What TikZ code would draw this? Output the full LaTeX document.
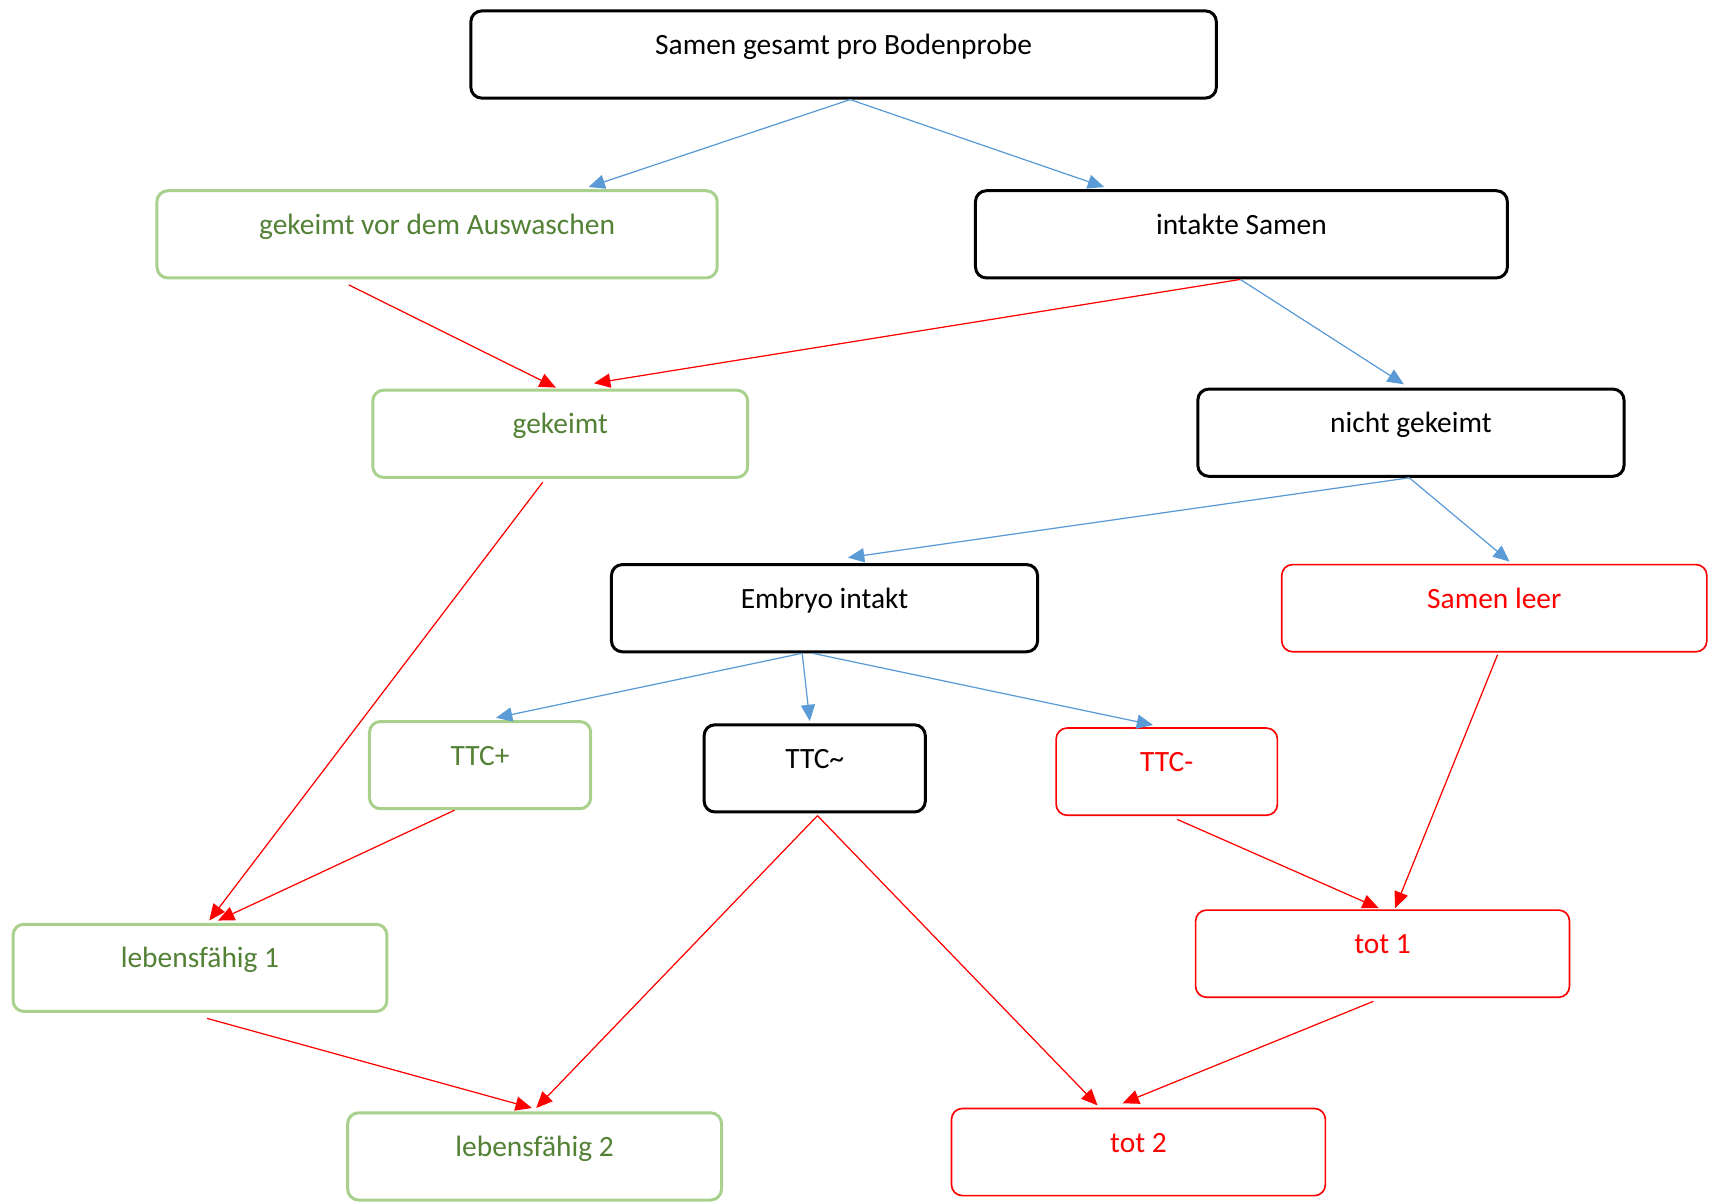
\documentclass[tikz,border=0pt]{standalone}
\usepackage{fontspec}
\setmainfont{Carlito}
\usetikzlibrary{arrows.meta,calc}
\definecolor{gborder}{HTML}{A9D18E}
\definecolor{gtext}{HTML}{538135}
\definecolor{blueline}{HTML}{5B9BD5}
\definecolor{redline}{HTML}{FF0000}
\begin{document}
\begin{tikzpicture}[x=0.4pt,y=-0.4pt,
  box/.style={rectangle, rounded corners=4pt, minimum height=32pt, inner sep=0pt,
    text height=8pt, text depth=8pt, font=\fontsize{10.8}{13}\selectfont, fill=white},
  blackbox/.style={box, draw=black, line width=1.1pt, text=black},
  greenbox/.style={box, draw=gborder, line width=1.1pt, text=gtext},
  redbox/.style={box, draw=redline, line width=0.6pt, text=redline},
  blarrow/.style={draw=blueline, line width=0.45pt, -{Triangle[length=6pt,width=5.2pt]}, fill=blueline},
  rdarrow/.style={draw=redline, line width=0.45pt, -{Triangle[length=6pt,width=5.2pt]}, fill=redline}]
\useasboundingbox (0,0) rectangle (1568,1104);
\node[blackbox, minimum width=273.6pt] (top) at (774,50) {Samen gesamt pro Bodenprobe};
\node[greenbox, minimum width=205.6pt] (gv) at (401,215) {gekeimt vor dem Auswaschen};
\node[blackbox, minimum width=195.2pt] (in) at (1139,215) {intakte Samen};
\node[greenbox, minimum width=137.6pt] (gk) at (514,398) {gekeimt};
\node[blackbox, minimum width=156.4pt] (ng) at (1294.5,397) {nicht gekeimt};
\node[blackbox, minimum width=156.4pt] (emb) at (756.5,558) {Embryo intakt};
\node[redbox, minimum width=156pt] (sl) at (1371,558) {Samen leer};
\node[greenbox, minimum width=81.2pt] (ttp) at (440.5,702) {TTC+};
\node[blackbox, minimum width=81.2pt] (ttt) at (747.5,705) {TTC\textasciitilde};
\node[redbox, minimum width=81.2pt] (ttm) at (1070.5,708) {TTC-};
\node[greenbox, minimum width=137.2pt] (l1) at (183.5,888) {lebensfähig 1};
\node[redbox, minimum width=137.2pt] (t1) at (1268.5,875) {tot 1};
\node[greenbox, minimum width=137.2pt] (l2) at (490.5,1061) {lebensfähig 2};
\node[redbox, minimum width=137.2pt] (t2) at (1044.5,1057) {tot 2};
% blue arrows
\draw[blarrow] ($(top.south)+(6,0)$) -- ($(gv.north)+(139,-2)$);
\draw[blarrow] ($(top.south)+(6,0)$) -- ($(in.north)+(-126,-2)$);
\draw[blarrow] ($(in.south)+(-1,0)$) -- ($(ng.north)+(-6.5,-3)$);
\draw[blarrow] ($(ng.south)+(-1.5,0)$) -- ($(emb.north)+(21.5,-5)$);
\draw[blarrow] ($(ng.south)+(-1.5,0)$) -- ($(sl.north)+(14,-2)$);
\draw[blarrow] ($(emb.south)+(-20.5,0)$) -- ($(ttp.north)+(14.5,-2)$);
\draw[blarrow] ($(emb.south)+(-20.5,0)$) -- ($(ttt.north)+(-4.5,-2)$);
\draw[blarrow] ($(emb.south)+(-11,0)$) -- ($(ttm.north)+(-12.5,-2)$);
% red arrows
\draw[rdarrow] ($(gv.south)+(-81,5)$) -- ($(gk.north)+(-4,-1)$);
\draw[rdarrow] ($(in.south)+(-1,0)$) -- ($(gk.north)+(31,-5)$);
\draw[rdarrow] ($(gk.south)+(-16,3)$) -- ($(l1.north)+(8.5,-2)$);
\draw[rdarrow] ($(ttp.south)+(-23.5,0)$) -- ($(l1.north)+(16.5,-2)$);
\draw[rdarrow] ($(ttt.south)+(2.5,2)$) -- ($(l2.north)+(1.5,-3)$);
\draw[rdarrow] ($(ttt.south)+(2.5,2)$) -- ($(t2.north)+(-37.5,-2)$);
\draw[rdarrow] ($(ttm.south)+(9.5,3)$) -- ($(t1.north)+(-3.5,-1)$);
\draw[rdarrow] ($(sl.south)+(3,2)$) -- ($(t1.north)+(11.5,-1)$);
\draw[rdarrow] ($(l1.south)+(6.5,5)$) -- ($(l2.north)+(-2.5,-3)$);
\draw[rdarrow] ($(t1.south)+(-8.5,3)$) -- ($(t2.north)+(-14.5,-4)$);
\end{tikzpicture}
\end{document}
